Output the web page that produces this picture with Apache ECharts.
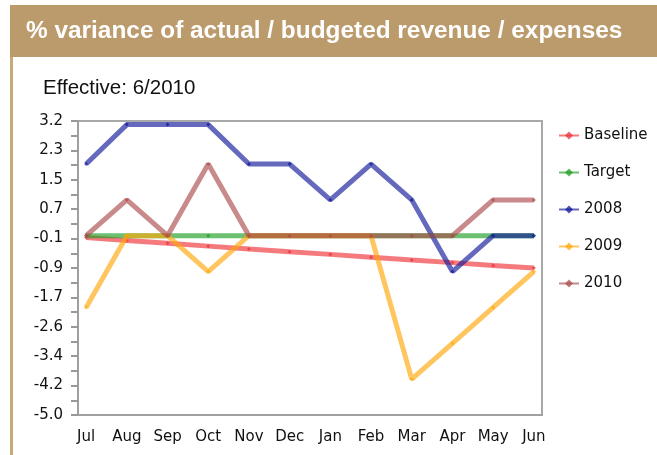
<!DOCTYPE html>
<html><head><meta charset="utf-8">
<script src="https://cdn.jsdelivr.net/npm/echarts@6/dist/echarts.min.js"></script>
<style>html,body{margin:0;padding:0;background:#fff}#c{width:657px;height:455px}</style>
</head><body><div id="c"></div>
<script>
const months = ['Jul','Aug','Sep','Oct','Nov','Dec','Jan','Feb','Mar','Apr','May','Jun'];
const baseline = [-0.05,-0.13,-0.21,-0.29,-0.37,-0.45,-0.52,-0.60,-0.68,-0.75,-0.83,-0.90];
const target = [0,0,0,0,0,0,0,0,0,0,0,0];
const y2008 = [2.0,3.1,3.1,3.1,2.0,2.0,1.0,2.0,1.0,-1.0,0,0];
const y2009 = [-2.0,0,0,-1.0,0,0,0,0,-4.0,-3.0,-2.0,-1.0];
const y2010 = [0,1.0,0,2.0,0,0,0,0,0,0,1.0,1.0];
const yTickLabels = ['-5.0','-4.2','-3.4','-2.6','-1.7','-0.9','-0.1','0.7','1.5','2.3','3.2'];
const yMin = -5, yMax = 3.2;

const step = (yMax - yMin) / (yTickLabels.length - 1);
const labelVals = yTickLabels.map((_, k) => +(yMin + k * step).toFixed(4));
const tickCats = [];
for (let k = 0; k <= (yTickLabels.length - 1) * 2; k++) tickCats.push(String(k));

const chart = echarts.init(document.getElementById('c'), null, {renderer: 'canvas'});
const FONT = 'DejaVu Sans';
function mk(name, arr, color, z) {
  return {
    name, type: 'line', data: arr.map((v, i) => [i, v]), z, yAxisIndex: 0,
    symbol: 'diamond', symbolSize: 4, showSymbol: true,
    lineStyle: {color, width: 5, opacity: 0.65},
    itemStyle: {color, opacity: 0.75},
    emphasis: {disabled: true}, animation: false
  };
}
chart.setOption({
  backgroundColor: '#fff',
  animation: false,
  graphic: [
    {type: 'rect', shape: {x: 10, y: 5, width: 647, height: 52}, style: {fill: '#BB9B6B'}},
    {type: 'rect', shape: {x: 10, y: 57, width: 3, height: 398}, style: {fill: '#C8AA78'}},
    {type: 'text', x: 26, y: 19, style: {text: '% variance of actual / budgeted revenue / expenses', fill: '#fff', font: 'bold 24.4px "Liberation Sans"'}},
    {type: 'text', x: 43, y: 78, style: {text: 'Effective: 6/2010', fill: '#111', font: '20.5px "Liberation Sans"'}}
  ],
  grid: {left: 78, right: 115, top: 121, bottom: 40, show: true, borderColor: '#a8a8a8', borderWidth: 2, backgroundColor: '#fff'},
  legend: {
    orient: 'vertical', left: 553, top: 123, itemWidth: 20, itemHeight: 10, itemGap: 22,
    textStyle: {fontFamily: FONT, fontSize: 15, color: '#111'},
    data: ['Baseline', 'Target', '2008', '2009', '2010']
  },
  xAxis: {
    type: 'value', min: -0.2, max: 11.2, position: 'bottom',
    axisLine: {show: true, onZero: false, lineStyle: {color: '#a0a0a0', width: 2}},
    axisTick: {show: false},
    splitLine: {show: false},
    axisLabel: {customValues: months.map((_, i) => i), formatter: v => months[Math.round(v)] || '', margin: 15, fontFamily: FONT, fontSize: 15, color: '#111'}
  },
  yAxis: [{
    type: 'value', min: yMin, max: yMax, position: 'left',
    axisLine: {show: true, onZero: false, lineStyle: {color: '#a0a0a0', width: 2}},
    axisTick: {show: false},
    splitLine: {show: false},
    axisLabel: {customValues: labelVals, formatter: v => yTickLabels[Math.round((v - yMin) / step)], margin: 15, fontFamily: FONT, fontSize: 15, color: '#111'}
  }, {
    type: 'category', data: tickCats, boundaryGap: false, position: 'left', offset: 0,
    axisLine: {show: true, onZero: false, lineStyle: {color: '#a0a0a0', width: 2}},
    axisLabel: {show: false},
    splitLine: {show: false},
    axisTick: {show: true, inside: false, interval: 0, length: 7, lineStyle: {color: '#999999', width: 2}}
  }],
  series: [
    mk('Baseline', baseline, '#EE3239', 2),
    mk('Target', target, '#1D9E23', 3),
    mk('2008', y2008, '#12199A', 4),
    mk('2009', y2009, '#FFA70A', 5),
    mk('2010', y2010, '#AA4B4B', 6)
  ]
});
</script></body></html>
